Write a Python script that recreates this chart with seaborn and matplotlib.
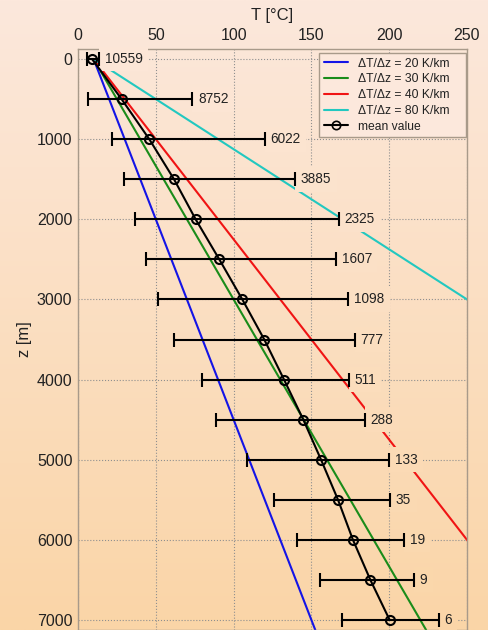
import numpy as np
import pandas as pd
import matplotlib
matplotlib.use("Agg")
import matplotlib.pyplot as plt
from matplotlib.lines import Line2D
from matplotlib.colors import to_rgb
import seaborn as sns

# Depth levels [m] and temperature statistics [°C]
depth = [0, 500, 1000, 1500, 2000, 2500, 3000, 3500, 4000, 4500, 5000, 5500, 6000, 6500, 7000]
mean_T = [9.0, 28.0, 45.8, 61.7, 75.6, 90.8, 105.6, 119.7, 132.4, 144.8, 156.2, 167.1, 176.7, 187.9, 200.3]
low_T = [6.0, 6.7, 21.9, 29.6, 36.4, 43.7, 51.2, 61.7, 79.5, 88.7, 108.6, 126.2, 140.5, 155.5, 169.9]
high_T = [13.5, 73.5, 120.2, 139.5, 167.7, 165.8, 173.7, 178.0, 173.9, 184.4, 200.0, 200.7, 209.7, 216.0, 231.8]
counts = [10559, 8752, 6022, 3885, 2325, 1607, 1098, 777, 511, 288, 133, 35, 19, 9, 6]

# Reference geothermal gradients [K/km]
gradients = [20, 30, 40, 80]
grad_colors = ["#1414e6", "#1a8c1a", "#f01414", "#22c8c0"]
T_surface = 10.0
z_ends = [0, 7125]

BG_TOP = "#fce8dc"
BG_BOTTOM = "#fad5a7"
TEXT = "#222222"

sns.set_style("white")
plt.rcParams["font.family"] = ["Liberation Sans", "DejaVu Sans"]

fig = plt.figure(figsize=(4.89, 6.30), dpi=100)

# vertical background gradient
bg = fig.add_axes([0, 0, 1, 1], zorder=-10)
c_top = np.array(to_rgb(BG_TOP))
c_bot = np.array(to_rgb(BG_BOTTOM))
frac = np.linspace(0, 1, 256)[:, None]
grad_img = c_top[None, :] * (1 - frac) + c_bot[None, :] * frac
bg.imshow(grad_img[:, None, :], aspect="auto", extent=[0, 1, 0, 1])
bg.set_axis_off()

ax = fig.add_axes([78 / 489, 0.0, (467 - 78) / 489, 581 / 630])
ax.set_facecolor("none")

# gradient lines
rows = []
for g in gradients:
    for z in z_ends:
        rows.append({"T": T_surface + g * z / 1000.0, "z": z,
                     "label": f"\u0394T/\u0394z = {g} K/km"})
lines_df = pd.DataFrame(rows)
labels = [f"\u0394T/\u0394z = {g} K/km" for g in gradients]
sns.lineplot(data=lines_df, x="T", y="z", hue="label", hue_order=labels,
             palette=dict(zip(labels, grad_colors)), sort=False, estimator=None,
             linewidth=1.5, legend=False, ax=ax, zorder=2)

# mean profile with spread
xerr = [np.array(mean_T) - np.array(low_T), np.array(high_T) - np.array(mean_T)]
ax.errorbar(mean_T, depth, xerr=xerr, fmt="none", ecolor="black",
            elinewidth=1.5, capsize=5, capthick=1.5, zorder=5)
sns.lineplot(x=mean_T, y=depth, sort=False, estimator=None, color="black",
             linewidth=1.5, marker="o", markersize=6.5, markerfacecolor="none",
             markeredgecolor="black", markeredgewidth=1.5, ax=ax, zorder=6)

ax.set_xlim(0, 250)
ax.set_ylim(7125, -125)
ax.set_xticks(range(0, 251, 50))
ax.set_yticks(range(0, 7001, 1000))
ax.xaxis.tick_top()
ax.xaxis.set_label_position("top")
ax.tick_params(length=0, labelsize=11.5, colors=TEXT, pad=4)
ax.grid(True, linestyle=":", linewidth=0.8, color="#8f8f8f")
ax.set_axisbelow(True)
for s in ax.spines.values():
    s.set_color("#a89a8a")
    s.set_linewidth(1.0)
ax.set_xlabel("T [\u00b0C]", fontsize=12, color=TEXT, labelpad=6)
ax.set_ylabel("z [m]", fontsize=12, color=TEXT, labelpad=3.5)

# sample counts next to each spread bar, masking lines behind them
fig.canvas.draw()
fig_h = fig.bbox.height
for hi, z, n in zip(high_T, depth, counts):
    _, ypix = ax.transData.transform((hi, z))
    f = 1 - ypix / fig_h
    col = c_top * (1 - f) + c_bot * f
    ax.annotate(str(n), xy=(hi, z), xytext=(4, 0), textcoords="offset points",
                ha="left", va="center", fontsize=9.8, color=TEXT, zorder=4,
                bbox=dict(boxstyle="square,pad=0.4", fc=col, ec="none"))

handles = [Line2D([0], [0], color=c, linewidth=1.5) for c in grad_colors]
handles.append(Line2D([0], [0], color="black", linewidth=1.5, marker="o",
                      markersize=6, markerfacecolor="none", markeredgewidth=1.2))
leg = ax.legend(handles, labels + ["mean value"], loc="upper right",
                bbox_to_anchor=(0.6195, 0.0, 0.378, 0.9936), mode="expand",
                fontsize=8.7, frameon=True, fancybox=False, framealpha=1,
                facecolor=BG_TOP, edgecolor="#a89a8a", borderaxespad=0,
                handlelength=2.0, labelspacing=0.31, borderpad=0.4,
                handletextpad=0.8)
leg.get_frame().set_linewidth(1.0)
leg.set_zorder(10)
for t in leg.get_texts():
    t.set_color(TEXT)

fig.savefig("out.png", dpi=100)
